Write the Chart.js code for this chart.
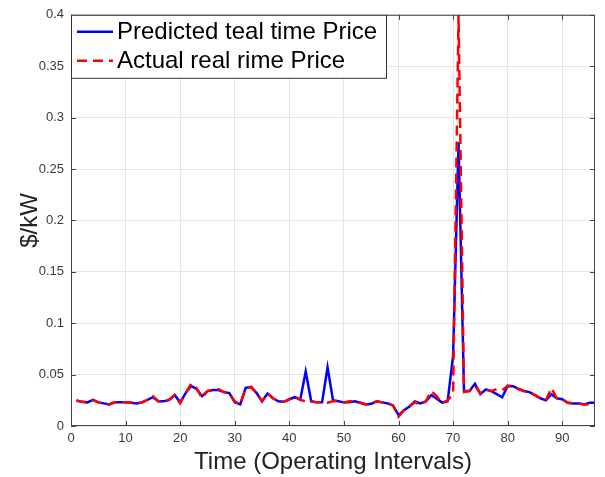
<!DOCTYPE html>
<html>
<head>
<meta charset="utf-8">
<script src="https://cdn.jsdelivr.net/npm/chart.js@4/dist/chart.umd.min.js"></script>
<style>
  html, body { margin: 0; padding: 0; background: #fff; }
  #wrap { width: 605px; height: 477px; }
</style>
</head>
<body>
<div id="wrap"><canvas id="priceChart" width="605" height="477"></canvas></div>
<script>
// Operating intervals 1..96
const intervals = [];
for (let i = 1; i <= 96; i++) intervals.push(i);

const predicted = [
  0.0248, 0.0235, 0.023, 0.0255, 0.023, 0.022, 0.021, 0.023, 0.023, 0.023,
  0.0226, 0.022, 0.023, 0.0255, 0.028, 0.024, 0.024, 0.0255, 0.030, 0.023,
  0.032, 0.039, 0.036, 0.029, 0.034, 0.035, 0.035, 0.033, 0.032, 0.023,
  0.021, 0.037, 0.038, 0.032, 0.024, 0.0316, 0.027, 0.024, 0.0235, 0.026,
  0.028, 0.0255, 0.053, 0.024, 0.023, 0.023, 0.057, 0.025, 0.024, 0.023,
  0.023, 0.024, 0.0226, 0.021, 0.0216, 0.024, 0.023, 0.022, 0.020, 0.0106,
  0.0154, 0.019, 0.024, 0.022, 0.024, 0.030, 0.0266, 0.0228, 0.024, 0.068,
  0.276, 0.034, 0.034, 0.041, 0.031, 0.0355, 0.034, 0.031, 0.028, 0.039,
  0.0387, 0.036, 0.034, 0.033, 0.030, 0.027, 0.025, 0.031, 0.027, 0.026,
  0.0226, 0.022, 0.022, 0.021, 0.0226, 0.0226
];

const actual = [
  0.0248, 0.0235, 0.023, 0.0255, 0.023, 0.022, 0.021, 0.023, 0.023, 0.023,
  0.0226, 0.022, 0.023, 0.0255, 0.029, 0.024, 0.024, 0.0255, 0.030, 0.022,
  0.032, 0.041, 0.037, 0.027, 0.034, 0.035, 0.036, 0.033, 0.032, 0.024,
  0.021, 0.037, 0.038, 0.032, 0.024, 0.0316, 0.027, 0.024, 0.0235, 0.026,
  0.029, 0.0255, 0.024, 0.024, 0.023, 0.023, 0.0226, 0.024, 0.024, 0.023,
  0.024, 0.024, 0.0226, 0.021, 0.0216, 0.024, 0.023, 0.022, 0.020, 0.009,
  0.0154, 0.019, 0.023, 0.021, 0.024, 0.034, 0.029, 0.022, 0.025, 0.031,
  0.400, 0.033, 0.034, 0.039, 0.032, 0.0355, 0.034, 0.036, 0.035, 0.039,
  0.0387, 0.036, 0.034, 0.033, 0.030, 0.027, 0.025, 0.037, 0.027, 0.026,
  0.0226, 0.022, 0.022, 0.021, 0.021, 0.0226
];

const yTicks = [0, 0.05, 0.1, 0.15, 0.2, 0.25, 0.3, 0.35, 0.4];
const xTicks = [0, 10, 20, 30, 40, 50, 60, 70, 80, 90];

const FONT = "'Liberation Sans', Arial, Helvetica, sans-serif";

// box around plot with inward ticks, legend inside the top-left corner
const boxAndLegend = {
  id: 'boxAndLegend',
  afterDatasetsDraw(chart) {
    const { ctx, chartArea: a, scales } = chart;
    ctx.save();
    ctx.strokeStyle = '#444';
    ctx.lineWidth = 1;
    ctx.strokeRect(a.left + 0.5, a.top + 0.5, a.right - a.left - 1, a.bottom - a.top - 1);

    // inward tick marks on all four sides
    ctx.beginPath();
    xTicks.forEach(v => {
      const px = Math.round(scales.x.getPixelForValue(v)) + 0.5;
      ctx.moveTo(px, a.bottom); ctx.lineTo(px, a.bottom - 5);
      ctx.moveTo(px, a.top); ctx.lineTo(px, a.top + 5);
    });
    yTicks.forEach(v => {
      const py = Math.round(scales.y.getPixelForValue(v)) + 0.5;
      ctx.moveTo(a.left, py); ctx.lineTo(a.left + 5, py);
      ctx.moveTo(a.right, py); ctx.lineTo(a.right - 5, py);
    });
    ctx.stroke();

    const lx = a.left, ly = a.top, lw = 315, lh = 63;
    ctx.fillStyle = '#fff';
    ctx.fillRect(lx, ly, lw, lh);
    ctx.strokeStyle = '#333';
    ctx.strokeRect(lx + 0.5, ly + 0.5, lw, lh);

    ctx.font = '24px ' + FONT;
    ctx.textBaseline = 'middle';
    ctx.fillStyle = '#000';
    const rows = [chart.data.datasets[1], chart.data.datasets[0]];
    rows.forEach((ds, i) => {
      const y = ly + 17 + i * 29;
      ctx.beginPath();
      ctx.strokeStyle = ds.borderColor;
      ctx.lineWidth = 2.5;
      ctx.setLineDash(ds.borderDash || []);
      ctx.moveTo(lx + 6, y);
      ctx.lineTo(lx + 42, y);
      ctx.stroke();
      ctx.setLineDash([]);
      ctx.fillText(ds.label, lx + 46, y + 1);
    });
    ctx.restore();
  }
};

new Chart(document.getElementById('priceChart'), {
  type: 'line',
  data: {
    datasets: [
      {
        label: 'Actual real rime Price',
        data: intervals.map((x, i) => ({ x: x, y: actual[i] })),
        borderColor: '#ff0000',
        borderWidth: 2.5,
        borderDash: [10, 6],
        pointRadius: 0,
        fill: false,
        tension: 0,
        order: 0
      },
      {
        label: 'Predicted teal time Price',
        data: intervals.map((x, i) => ({ x: x, y: predicted[i] })),
        borderColor: '#0000ff',
        borderWidth: 2.5,
        pointRadius: 0,
        fill: false,
        tension: 0,
        order: 1
      }
    ]
  },
  options: {
    responsive: false,
    animation: false,
    layout: { padding: { top: 12, right: 10, left: 0, bottom: 0 } },
    plugins: { legend: { display: false }, tooltip: { enabled: false } },
    scales: {
      x: {
        type: 'linear',
        min: 0,
        max: 96,
        afterBuildTicks(axis) { axis.ticks = xTicks.map(v => ({ value: v })); },
        afterFit(axis) { axis.height = 51; },
        grid: { color: '#e6e6e6', drawTicks: false },
        border: { display: false },
        ticks: { color: '#3a3a3a', font: { family: FONT, size: 13 }, padding: 5, maxRotation: 0 },
        title: {
          display: true,
          text: 'Time (Operating Intervals)',
          color: '#222',
          font: { family: FONT, size: 24 },
          padding: { top: 0, bottom: 0 }
        }
      },
      y: {
        min: 0,
        max: 0.4,
        afterBuildTicks(axis) { axis.ticks = yTicks.map(v => ({ value: v })); },
        afterFit(axis) { axis.width = 71; },
        grid: { color: '#e6e6e6', drawTicks: false },
        border: { display: false },
        ticks: {
          color: '#3a3a3a',
          font: { family: FONT, size: 13 },
          padding: 7,
          callback: v => String(+v.toFixed(2))
        },
        title: {
          display: true,
          text: '$/kW',
          color: '#222',
          font: { family: FONT, size: 24 },
          padding: { top: 16, bottom: 0 }
        }
      }
    }
  },
  plugins: [boxAndLegend]
});
</script>
</body>
</html>
